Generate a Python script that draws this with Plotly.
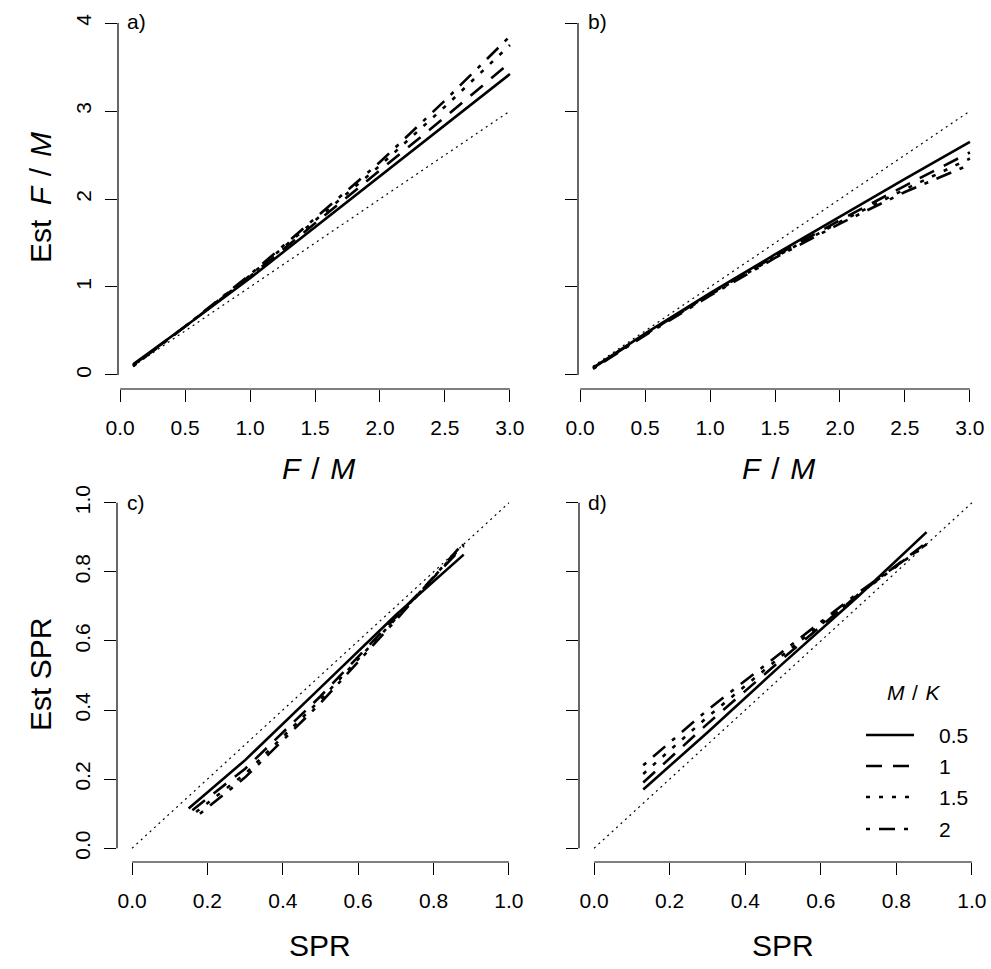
import plotly.graph_objects as go

W, H = 991, 969

# ---------------- data ----------------
mk_levels = ["0.5", "1", "1.5", "2"]

# Panel a: Est F/M vs F/M
fm_x = [0.1, 0.5, 1.0, 1.5, 2.0, 2.5, 3.0]
a_y = {
    "0.5": [0.12, 0.55, 1.10, 1.68, 2.25, 2.83, 3.42],
    "1":   [0.11, 0.55, 1.12, 1.72, 2.32, 2.93, 3.55],
    "1.5": [0.10, 0.55, 1.13, 1.75, 2.38, 3.05, 3.75],
    "2":   [0.10, 0.55, 1.14, 1.78, 2.42, 3.12, 3.85],
}
# Panel b
b_y = {
    "0.5": [0.08, 0.47, 0.93, 1.37, 1.80, 2.23, 2.65],
    "1":   [0.08, 0.46, 0.92, 1.35, 1.76, 2.15, 2.53],
    "1.5": [0.07, 0.46, 0.91, 1.34, 1.74, 2.11, 2.46],
    "2":   [0.07, 0.45, 0.90, 1.33, 1.72, 2.08, 2.39],
}
# Panel c: Est SPR vs SPR
c_x = {
    "0.5": [0.15, 0.30, 0.50, 0.70, 0.88],
    "1":   [0.16, 0.30, 0.50, 0.70, 0.88],
    "1.5": [0.17, 0.30, 0.50, 0.70, 0.88],
    "2":   [0.18, 0.30, 0.50, 0.70, 0.88],
}
c_y = {
    "0.5": [0.115, 0.255, 0.465, 0.675, 0.850],
    "1":   [0.110, 0.230, 0.440, 0.670, 0.875],
    "1.5": [0.105, 0.215, 0.430, 0.665, 0.880],
    "2":   [0.100, 0.205, 0.420, 0.660, 0.885],
}
# Panel d
d_x = [0.13, 0.30, 0.50, 0.70, 0.88]
d_y = {
    "0.5": [0.170, 0.335, 0.535, 0.730, 0.915],
    "1":   [0.190, 0.360, 0.550, 0.735, 0.885],
    "1.5": [0.215, 0.380, 0.560, 0.735, 0.880],
    "2":   [0.240, 0.400, 0.570, 0.740, 0.880],
}
ref_fm = [0.1, 3.0]
ref_spr = [0.0, 1.0]

fm_ticks = [0, 0.5, 1.0, 1.5, 2.0, 2.5, 3.0]
fm_ticklabels = ["0.0", "0.5", "1.0", "1.5", "2.0", "2.5", "3.0"]
estfm_ticks = [0, 1, 2, 3, 4]
estfm_ticklabels = ["0", "1", "2", "3", "4"]
spr_ticks = [0, 0.2, 0.4, 0.6, 0.8, 1.0]
spr_ticklabels = ["0.0", "0.2", "0.4", "0.6", "0.8", "1.0"]

# ---------------- styles ----------------
FONT = "Arial, Liberation Sans, sans-serif"
dash_map = {"0.5": "solid", "1": "16px,11px", "1.5": "4px,9px", "2": "4px,9px,16px,9px"}
LW = 2.6

fig = go.Figure()

def add_panel(xs_map, ys_map, xa, ya, refx):
    fig.add_trace(go.Scatter(x=refx, y=refx, mode="lines", xaxis=xa, yaxis=ya,
                             line=dict(color="black", width=1.2, dash="2px,4px"),
                             showlegend=False, hoverinfo="skip"))
    for k in mk_levels:
        xs = xs_map[k] if isinstance(xs_map, dict) else xs_map
        fig.add_trace(go.Scatter(x=xs, y=ys_map[k], mode="lines", xaxis=xa, yaxis=ya,
                                 line=dict(color="black", width=LW, dash=dash_map[k]),
                                 name=k, showlegend=False))

add_panel(fm_x, a_y, "x", "y", ref_fm)
add_panel(fm_x, b_y, "x2", "y2", ref_fm)
add_panel(c_x, c_y, "x3", "y3", ref_spr)
add_panel(d_x, d_y, "x4", "y4", ref_spr)

def px_dom(a, b):
    return [a / W, b / W]

def py_dom(top, bottom):
    return [1 - bottom / H, 1 - top / H]

tickfont = dict(family=FONT, size=21, color="black")
common_x = dict(ticks="outside", ticklen=12, tickwidth=1, tickcolor="black",
                showline=False, showgrid=False, zeroline=False, tickfont=tickfont,
                ticklabelstandoff=8, automargin=False)
common_y = dict(ticks="outside", ticklen=12, tickwidth=1, tickcolor="black",
                showline=False, showgrid=False, zeroline=False, tickfont=tickfont,
                tickangle=-90, ticklabelstandoff=6, automargin=False)

fm_range = [-0.016, 3.116]
estfm_range = [-0.16, 4.16]
spr_range = [-0.04, 1.04]

fig.update_layout(
    template="none",
    width=W, height=H, margin=dict(l=0, r=0, t=0, b=0, pad=0, autoexpand=False),
    paper_bgcolor="white", plot_bgcolor="white", showlegend=False,
    xaxis=dict(domain=px_dom(118, 525), range=fm_range, tickvals=fm_ticks, ticktext=fm_ticklabels, anchor="y", **common_x),
    yaxis=dict(domain=py_dom(9, 389), range=estfm_range, tickvals=estfm_ticks, ticktext=estfm_ticklabels, anchor="x", **common_y),
    xaxis2=dict(domain=px_dom(578, 985), range=fm_range, tickvals=fm_ticks, ticktext=fm_ticklabels, anchor="y2", **common_x),
    yaxis2=dict(domain=py_dom(9, 389), range=estfm_range, tickvals=estfm_ticks, showticklabels=False, anchor="x2", **common_y),
    xaxis3=dict(domain=px_dom(117, 524), range=spr_range, tickvals=spr_ticks, ticktext=spr_ticklabels, anchor="y3", **common_x),
    yaxis3=dict(domain=py_dom(489, 862), range=spr_range, tickvals=spr_ticks, ticktext=spr_ticklabels, anchor="x3", **common_y),
    xaxis4=dict(domain=px_dom(579, 987), range=spr_range, tickvals=spr_ticks, ticktext=spr_ticklabels, anchor="y4", **common_x),
    yaxis4=dict(domain=py_dom(489, 862), range=spr_range, tickvals=spr_ticks, showticklabels=False, anchor="x4", **common_y),
)

# R-style axis lines spanning only the tick range
shapes = []
axis_pairs = [("x", "y", fm_ticks, estfm_ticks), ("x2", "y2", fm_ticks, estfm_ticks),
              ("x3", "y3", spr_ticks, spr_ticks), ("x4", "y4", spr_ticks, spr_ticks)]
for xa, ya, xt, yt in axis_pairs:
    shapes.append(dict(type="line", xref=xa, yref=ya + " domain", x0=xt[0], x1=xt[-1], y0=0, y1=0,
                       line=dict(color="black", width=1.2)))
    shapes.append(dict(type="line", xref=xa + " domain", yref=ya, x0=0, x1=0, y0=yt[0], y1=yt[-1],
                       line=dict(color="black", width=1.2)))

# legend (panel d)
leg_rows = [735, 766, 797, 829]
for k, yy in zip(mk_levels, leg_rows):
    shapes.append(dict(type="line", xref="paper", yref="paper", x0=866 / W, x1=914 / W,
                       y0=1 - yy / H, y1=1 - yy / H,
                       line=dict(color="black", width=LW, dash=dash_map[k])))
fig.update_layout(shapes=shapes)

ann = []
def text(x, y, s, size=21, xanchor="center", angle=0):
    ann.append(dict(xref="paper", yref="paper", x=x / W, y=1 - y / H, text=s, showarrow=False,
                    xanchor=xanchor, yanchor="middle", textangle=angle,
                    font=dict(family=FONT, size=size, color="black")))

for k, yy in zip(mk_levels, leg_rows):
    text(937, yy, k, xanchor="left")
text(914, 692, "<i>M</i>\u200a/\u200a<i>K</i>".replace("\u200a", " \u200a"))

# panel labels
text(136, 22, "a)")
text(597, 22, "b)")
text(136, 502, "c)")
text(597, 502, "d)")

FM = "<i>F</i> \u200a/\u200a <i>M</i>"
# axis titles
text(318, 468, FM, size=30)
text(778, 468, FM, size=30)
text(320, 945, "SPR", size=30)
text(783, 945, "SPR", size=30)
text(40, 198, "Est \u2009" + FM, size=30, angle=-90)
text(40, 675, "Est SPR", size=30, angle=-90)
fig.update_layout(annotations=ann)

fig.write_html("out.html", config={"displayModeBar": False},
               post_script="document.body.style.margin='0px';")
